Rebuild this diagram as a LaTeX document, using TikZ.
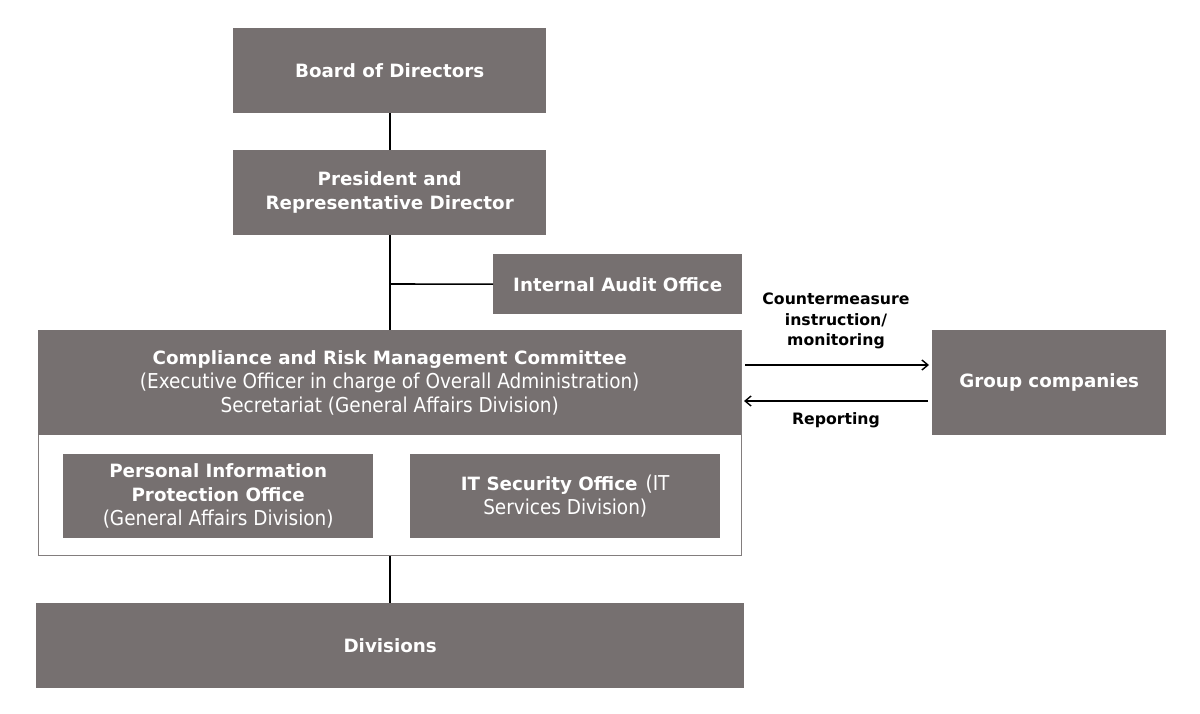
\documentclass[tikz,border=0pt]{standalone}
\usepackage{fontspec}
\setmainfont{DejaVu Sans}
\newfontfamily\condfont{DejaVu Sans Condensed}
\usetikzlibrary{arrows.meta}
\definecolor{boxgray}{RGB}{118,112,112}
\definecolor{framegray}{RGB}{130,125,125}
\newcommand{\regtxt}[1]{{\mdseries\condfont\fontsize{20.5}{24}\selectfont #1}}
\tikzset{
  box/.style={fill=boxgray, text=white, font=\bfseries\fontsize{18.3}{24}\selectfont, align=center, inner sep=0pt, anchor=north west},
  conn/.style={draw=black, line width=1.6pt},
  arr/.style={draw=black, line width=1.4pt, -{Straight Barb[length=6pt,width=10pt]}},
  lbl/.style={font=\bfseries\fontsize{15.7}{20.5}\selectfont, align=center, text=black, inner sep=0pt}
}
\begin{document}
\begin{tikzpicture}[x=1pt,y=-1pt]
\useasboundingbox (0,0) rectangle (1200,714);
% frame of committee
\node[draw=framegray, line width=0.8pt, fill=white, minimum width=703pt, minimum height=225pt, anchor=north west, inner sep=0pt] (frame) at (38,330) {};
\node[box, minimum width=313pt, minimum height=85pt] (board) at (233,28) {Board of Directors};
\node[box, minimum width=313pt, minimum height=85pt] (pres) at (233,150) {President and\\Representative Director};
\node[box, minimum width=249pt, minimum height=60pt] (audit) at (493,254) {Internal Audit Office};
\node[box, minimum width=703pt, minimum height=105pt] (crmc) at (38,330) {Compliance and Risk Management Committee\\\regtxt{(Executive Officer in charge of Overall Administration)}\\\regtxt{Secretariat (General Affairs Division)}};
\node[box, minimum width=310pt, minimum height=84pt] (pipo) at (63,454) {Personal Information\\Protection Office\\\regtxt{(General Affairs Division)}};
\node[box, minimum width=310pt, minimum height=84pt] (itsec) at (410,454) {IT Security Office\hspace{8pt}\regtxt{(IT}\\\regtxt{Services Division)}};
\node[box, minimum width=708pt, minimum height=85pt] (div) at (36,603) {Divisions};
\node[box, minimum width=234pt, minimum height=105pt] (group) at (932,330) {Group companies};
% connectors
\draw[conn] (board.south) -- (pres.north);
\draw[conn] (pres.south) -- (crmc.north -| pres.south);
\coordinate (jn) at (389,284);
\draw[conn] (jn) -- (audit.west);
\draw[conn] (frame.south -| pres.south) -- (div.north -| pres.south);
\coordinate (a1s) at (745,365);
\coordinate (a1e) at (929,365);
\coordinate (a2s) at (928,401);
\coordinate (a2e) at (744,401);
\draw[arr] (a1s) -- (a1e);
\draw[arr] (a2s) -- (a2e);
\node[lbl] (l1) at (836,321) {Countermeasure\\instruction/\\monitoring};
\node[lbl] (l2) at (836,420) {Reporting};
\end{tikzpicture}
\end{document}
